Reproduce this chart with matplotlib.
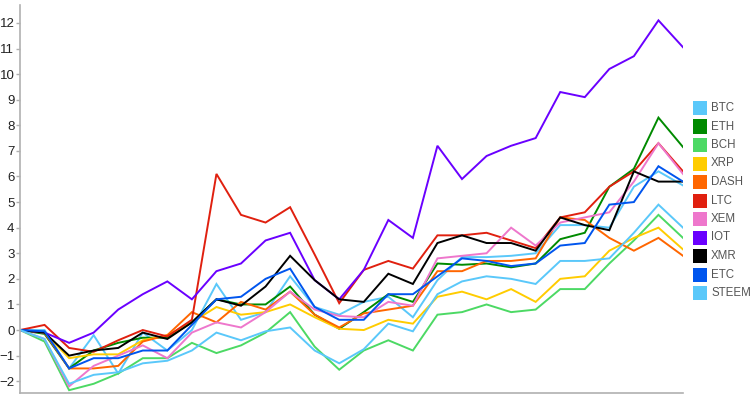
import numpy as np
import matplotlib
matplotlib.use("Agg")
import matplotlib.pyplot as plt
from matplotlib.patches import Rectangle

plt.rcParams['font.family'] = ['Liberation Sans', 'DejaVu Sans']

# values, 28 time steps
names = ["BTC", "ETH", "BCH", "XRP", "DASH", "LTC", "XEM", "IOT", "XMR", "ETC", "STEEM"]
colors = ["#5AC8FA", "#008A00", "#4CD964", "#FFCC00", "#FF6600", "#E0200F",
          "#EE77CC", "#6A00FF", "#000000", "#0055EE", "#5AC8FA"]

btc = [0, 0.0, -1.5, -0.2, -1.7, -0.1, -0.8, 0.0, 1.8, 0.4, 0.7, 2.1, 0.9, 0.6,
       1.1, 1.3, 0.5, 1.95, 2.85, 2.85, 2.9, 3.0, 4.1, 4.1, 4.0, 5.6, 6.2, 5.65]
eth = [0, -0.15, -1.5, -0.8, -0.5, -0.3, -0.3, 0.3, 1.2, 1.0, 1.0, 1.7, 0.6, 0.05,
       0.7, 1.4, 1.1, 2.6, 2.55, 2.6, 2.45, 2.6, 3.55, 3.8, 5.6, 6.3, 8.3, 7.15]
bch = [0, -0.45, -2.35, -2.1, -1.7, -1.1, -1.1, -0.5, -0.9, -0.6, -0.1, 0.7, -0.65, -1.55,
       -0.8, -0.4, -0.8, 0.6, 0.7, 1.0, 0.7, 0.8, 1.6, 1.6, 2.6, 3.5, 4.5, 3.6]
xrp = [0, -0.1, -1.1, -0.95, -0.95, -0.4, -0.2, 0.3, 0.9, 0.6, 0.7, 1.0, 0.5, 0.05,
       0.0, 0.4, 0.25, 1.3, 1.5, 1.2, 1.6, 1.1, 2.0, 2.1, 3.1, 3.6, 4.0, 3.15]
dash = [0, -0.1, -1.5, -1.5, -1.4, -0.45, -0.2, 0.7, 0.3, 1.1, 0.8, 1.5, 0.6, 0.1,
        0.65, 0.8, 0.95, 2.3, 2.3, 2.7, 2.7, 2.8, 4.4, 4.3, 3.6, 3.1, 3.6, 2.9]
ltc = [0, 0.2, -0.7, -0.85, -0.4, 0.0, -0.25, 0.4, 6.1, 4.5, 4.2, 4.8, 2.95, 1.05,
       2.35, 2.7, 2.4, 3.7, 3.7, 3.8, 3.5, 3.2, 4.4, 4.6, 5.6, 6.2, 7.3, 6.2]
xem = [0, -0.35, -2.2, -1.4, -1.0, -0.6, -1.1, -0.1, 0.3, 0.1, 0.7, 1.5, 0.8, 0.55,
       0.5, 1.1, 0.95, 2.8, 2.9, 3.0, 4.0, 3.3, 4.2, 4.4, 4.6, 5.8, 7.3, 6.1]
iot = [0, -0.1, -0.5, -0.1, 0.8, 1.4, 1.9, 1.2, 2.3, 2.6, 3.5, 3.8, 1.95, 1.2,
       2.35, 4.3, 3.6, 7.2, 5.9, 6.8, 7.2, 7.5, 9.3, 9.1, 10.2, 10.7, 12.1, 11.05]
xmr = [0, -0.1, -1.0, -0.8, -0.7, -0.1, -0.35, 0.3, 1.2, 0.95, 1.7, 2.9, 1.95, 1.2,
       1.1, 2.2, 1.8, 3.4, 3.7, 3.4, 3.4, 3.1, 4.4, 4.1, 3.9, 6.2, 5.8, 5.8]
etc = [0, -0.05, -1.5, -1.1, -1.1, -0.8, -0.8, 0.2, 1.2, 1.3, 2.0, 2.4, 0.9, 0.4,
       0.4, 1.4, 1.4, 2.1, 2.8, 2.7, 2.5, 2.6, 3.3, 3.4, 4.9, 5.0, 6.4, 5.8]
steem = [0, -0.35, -2.1, -1.75, -1.65, -1.3, -1.2, -0.8, -0.1, -0.4, -0.05, 0.1, -0.8, -1.3,
         -0.75, 0.25, -0.05, 1.4, 1.9, 2.1, 2.0, 1.8, 2.7, 2.7, 2.8, 3.8, 4.9, 4.0]

series = [btc, eth, bch, xrp, dash, ltc, xem, iot, xmr, etc, steem]
x = np.arange(len(btc))

fig = plt.figure(figsize=(7.5, 4), dpi=100)
ax = fig.add_axes([20/750, 7/400, 663/750, 388/400])

for vals, c in zip(series, colors):
  ax.plot(x, vals, color=c, linewidth=1.4, solid_joinstyle='miter')

ax.set_xlim(0, len(btc) - 1)
ax.set_ylim(-2.46, 12.7)
ax.set_yticks(range(-2, 13))
ax.set_xticks([])
for s in ['top', 'right']:
  ax.spines[s].set_visible(False)
for s in ['left', 'bottom']:
  ax.spines[s].set_color('#b0b0b0')
  ax.spines[s].set_linewidth(1.2)
ax.tick_params(axis='y', length=3, width=1, color='#b0b0b0', pad=1,
               labelsize=9.5, labelcolor='#222222')

# legend drawn as squares + labels on the right
for i, (name, c) in enumerate(zip(names, colors)):
  yc = 400 - (108 + 18.5 * i)
  fig.patches.append(Rectangle((693/750, (yc - 7)/400), 14/750, 14/400,
                               transform=fig.transFigure, facecolor=c, edgecolor='none'))
  fig.text(711/750, yc/400, name, fontsize=8.3, color='#555555', va='center', ha='left')

fig.savefig('out.png', dpi=100)
